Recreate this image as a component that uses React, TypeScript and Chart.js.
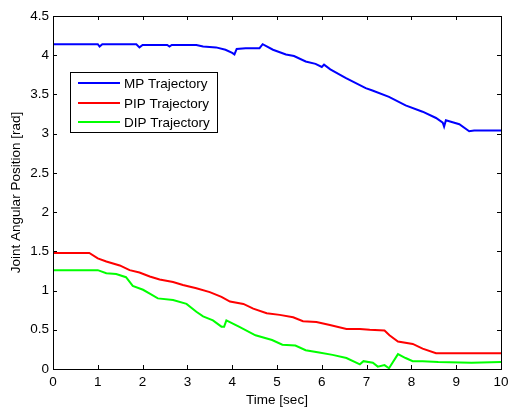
import React, { useEffect, useRef } from "react";
import { Chart, registerables } from "chart.js";

Chart.register(...registerables);

const xTicks = [0, 1, 2, 3, 4, 5, 6, 7, 8, 9, 10];
const yTicks = [0, 0.5, 1, 1.5, 2, 2.5, 3, 3.5, 4, 4.5];
const seriesLabels = ["MP Trajectory", "PIP Trajectory", "DIP Trajectory"];
const seriesColors = ["#0000ff", "#ff0000", "#00ff00"];

const mpT = [0, 1.0, 1.04, 1.1, 1.86, 1.93, 2.0, 2.55, 2.6, 2.65, 3.2, 3.35, 3.64, 3.85, 4.0, 4.05, 4.1, 4.3, 4.61, 4.68, 4.91, 5.2, 5.38, 5.64, 5.86, 6.0, 6.05, 6.19, 6.53, 6.98, 7.13, 7.5, 7.87, 8.25, 8.55, 8.7, 8.73, 8.77, 9.07, 9.29, 9.4, 10];
const mpV = [4.14, 4.14, 4.11, 4.14, 4.14, 4.1, 4.13, 4.13, 4.11, 4.13, 4.13, 4.11, 4.1, 4.07, 4.03, 4.01, 4.08, 4.09, 4.09, 4.14, 4.07, 4.01, 3.99, 3.92, 3.89, 3.85, 3.88, 3.82, 3.71, 3.58, 3.55, 3.47, 3.36, 3.28, 3.2, 3.14, 3.09, 3.17, 3.12, 3.03, 3.04, 3.04];

const pipT = [0, 0.81, 1.0, 1.19, 1.49, 1.71, 1.93, 2.16, 2.38, 2.68, 2.9, 3.2, 3.5, 3.76, 3.95, 4.25, 4.47, 4.77, 5.06, 5.36, 5.58, 5.88, 6.18, 6.55, 6.85, 7.07, 7.4, 7.51, 7.7, 8.03, 8.25, 8.55, 10];
const pipV = [1.48, 1.48, 1.41, 1.37, 1.32, 1.26, 1.23, 1.18, 1.14, 1.11, 1.07, 1.03, 0.98, 0.92, 0.86, 0.83, 0.77, 0.71, 0.69, 0.66, 0.61, 0.6, 0.56, 0.51, 0.51, 0.5, 0.49, 0.43, 0.35, 0.32, 0.26, 0.2, 0.2];

const dipT = [0, 1.0, 1.19, 1.41, 1.63, 1.78, 2.01, 2.16, 2.34, 2.68, 2.98, 3.2, 3.35, 3.57, 3.76, 3.82, 3.87, 4.15, 4.52, 4.89, 5.12, 5.41, 5.64, 5.94, 6.24, 6.55, 6.85, 6.93, 7.14, 7.25, 7.4, 7.5, 7.7, 7.87, 8.03, 8.25, 8.6, 9.34, 10];
const dipV = [1.26, 1.26, 1.22, 1.21, 1.17, 1.06, 1.01, 0.96, 0.9, 0.88, 0.83, 0.73, 0.67, 0.62, 0.54, 0.54, 0.62, 0.54, 0.43, 0.37, 0.31, 0.3, 0.24, 0.21, 0.18, 0.14, 0.06, 0.1, 0.08, 0.03, 0.05, 0.01, 0.19, 0.14, 0.1, 0.1, 0.09, 0.08, 0.09];

const FONT = "'Liberation Sans', Arial, sans-serif";
const FS = 13.5;

const toPts = (t: number[], v: number[]) => t.map((x, i) => ({ x, y: v[i] }));

const boxPlugin = {
  id: "matlabBox",
  afterDatasetsDraw(chart: any) {
    const { ctx, chartArea: a, scales } = chart;
    ctx.save();
    ctx.strokeStyle = "#000";
    ctx.lineWidth = 1;
    ctx.strokeRect(Math.round(a.left) + 0.5, Math.round(a.top) + 0.5, Math.round(a.right - a.left), Math.round(a.bottom - a.top));
    const tl = 4;
    ctx.beginPath();
    xTicks.forEach((v) => {
      const px = Math.round(scales.x.getPixelForValue(v)) + 0.5;
      ctx.moveTo(px, a.bottom);
      ctx.lineTo(px, a.bottom - tl);
      ctx.moveTo(px, a.top);
      ctx.lineTo(px, a.top + tl);
    });
    yTicks.forEach((v) => {
      const py = Math.round(scales.y.getPixelForValue(v)) + 0.5;
      ctx.moveTo(a.left, py);
      ctx.lineTo(a.left + tl, py);
      ctx.moveTo(a.right, py);
      ctx.lineTo(a.right - tl, py);
    });
    ctx.stroke();

    // legend box
    const lx = 70, ly = 72, lw = 147, lh = 60;
    ctx.fillStyle = "#fff";
    ctx.fillRect(lx, ly, lw, lh);
    ctx.strokeRect(lx + 0.5, ly + 0.5, lw, lh);
    ctx.font = `${FS}px ${FONT}`;
    ctx.textBaseline = "middle";
    const rows = [83, 103, 122];
    chart.data.datasets.forEach((ds: any, i: number) => {
      ctx.strokeStyle = ds.borderColor;
      ctx.lineWidth = 2;
      ctx.beginPath();
      ctx.moveTo(78, rows[i]);
      ctx.lineTo(120, rows[i]);
      ctx.stroke();
      ctx.fillStyle = "#000";
      ctx.fillText(ds.label, 124, rows[i] + 1);
    });
    ctx.restore();
  },
};

export default function App() {
  const ref = useRef<HTMLCanvasElement>(null);
  useEffect(() => {
    if (!ref.current) return;
    const series = [toPts(mpT, mpV), toPts(pipT, pipV), toPts(dipT, dipV)];
    const chart = new Chart(ref.current, {
      type: "line",
      data: {
        datasets: series.map((d, i) => ({
          label: seriesLabels[i],
          data: d,
          borderColor: seriesColors[i],
          backgroundColor: seriesColors[i],
          borderWidth: 2,
          pointRadius: 0,
          tension: 0,
          fill: false,
        })),
      },
      options: {
        animation: false,
        responsive: false,
        maintainAspectRatio: false,
        layout: { padding: { left: 0, top: 16, right: 9, bottom: 0 } },
        plugins: { legend: { display: false }, tooltip: { enabled: false } },
        scales: {
          x: {
            type: "linear",
            min: 0,
            max: 10,
            afterBuildTicks: (s: any) => {
              s.ticks = xTicks.map((v) => ({ value: v }));
            },
            afterFit: (s: any) => {
              s.height = 39;
              s.paddingLeft = 0;
              s.paddingRight = 0;
            },
            grid: { display: false, drawTicks: false },
            border: { display: false },
            ticks: {
              padding: 5,
              color: "#000",
              font: { family: FONT, size: FS },
              maxRotation: 0,
              callback: (v: any) => String(v),
            },
            title: {
              display: true,
              text: "Time [sec]",
              color: "#000",
              font: { family: FONT, size: FS },
              padding: { top: 1, bottom: 0 },
            },
          },
          y: {
            type: "linear",
            min: 0,
            max: 4.5,
            afterBuildTicks: (s: any) => {
              s.ticks = yTicks.map((v) => ({ value: v }));
            },
            afterFit: (s: any) => {
              s.width = 53;
              s.paddingTop = 0;
              s.paddingBottom = 0;
            },
            grid: { display: false, drawTicks: false },
            border: { display: false },
            ticks: {
              padding: 4,
              color: "#000",
              font: { family: FONT, size: FS },
              callback: (v: any) => String(v),
            },
            title: {
              display: true,
              text: "Joint Angular Position [rad]",
              color: "#000",
              font: { family: FONT, size: FS },
              padding: { top: 8, bottom: 0 },
            },
          },
        },
      },
      plugins: [boxPlugin],
    });
    return () => chart.destroy();
  }, []);
  return (
    <div style={{ position: "fixed", left: 0, top: 0, width: 510, height: 408, background: "#fff" }}>
      <canvas ref={ref} width={510} height={408} style={{ width: 510, height: 408 }} />
    </div>
  );
}
